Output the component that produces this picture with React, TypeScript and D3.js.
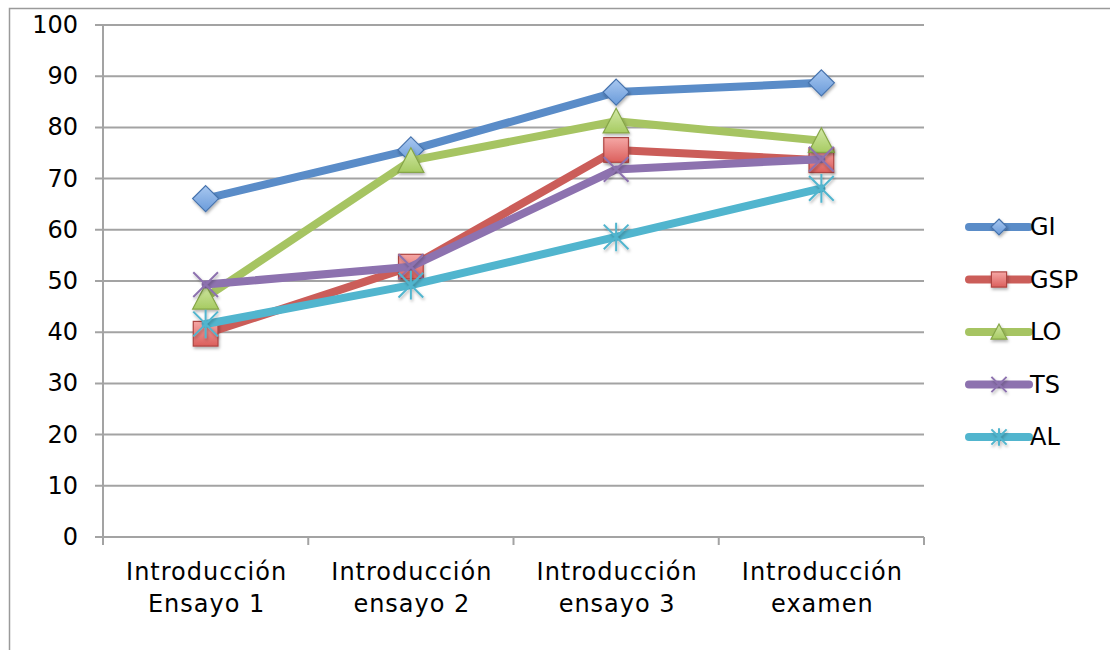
import React from "react";
import * as d3 from "d3";

const categories = [
  ["Introducción", "Ensayo 1"],
  ["Introducción", "ensayo 2"],
  ["Introducción", "ensayo 3"],
  ["Introducción", "examen"],
];
const yTicks = [0, 10, 20, 30, 40, 50, 60, 70, 80, 90, 100];

const seriesGI = [66.1, 75.6, 86.9, 88.7];
const seriesGSP = [39.7, 52.8, 75.6, 73.6];
const seriesLO = [46.8, 73.5, 81.2, 77.4];
const seriesTS = [49.3, 52.8, 71.8, 73.8];
const seriesAL = [41.6, 49.2, 58.6, 68.1];

const series = [
  { name: "GI", values: seriesGI, color: "#5A8CC8", fill: ["#A9C8F0", "#6A9BDA"], stroke: "#4673AD", marker: "diamond" },
  { name: "GSP", values: seriesGSP, color: "#CB5D59", fill: ["#F5A7A5", "#DB5F5C"], stroke: "#AE4542", marker: "square" },
  { name: "LO", values: seriesLO, color: "#A6C462", fill: ["#D2E8A6", "#A7CB62"], stroke: "#86A648", marker: "triangle" },
  { name: "TS", values: seriesTS, color: "#8D72AF", fill: ["#8D72AF", "#8D72AF"], stroke: "#8D72AF", marker: "x" },
  { name: "AL", values: seriesAL, color: "#51B5CE", fill: ["#51B5CE", "#51B5CE"], stroke: "#51B5CE", marker: "star" },
];

const FONT = "'DejaVu Sans', Verdana, sans-serif";
const left = 103;
const right = 924;
const top = 25;
const bottom = 537;

function Marker({ kind, x, y, s, idx, size = 13 }: any) {
  const r = size;
  const grad = `url(#grad${idx})`;
  if (kind === "diamond") {
    return (
      <path
        d={`M${x},${y - r} L${x + r},${y} L${x},${y + r} L${x - r},${y} Z`}
        fill={grad}
        stroke={s.stroke}
        strokeWidth={1.2}
        filter="url(#shadow)"
      />
    );
  }
  if (kind === "square") {
    const h = r * 0.95;
    return (
      <rect x={x - h} y={y - h} width={h * 2} height={h * 2} fill={grad} stroke={s.stroke} strokeWidth={1.2} filter="url(#shadow)" />
    );
  }
  if (kind === "triangle") {
    return (
      <path
        d={`M${x},${y - r} L${x + r},${y + r * 0.9} L${x - r},${y + r * 0.9} Z`}
        fill={grad}
        stroke={s.stroke}
        strokeWidth={1.2}
        filter="url(#shadow)"
      />
    );
  }
  if (kind === "x") {
    const h = r * 0.95;
    return (
      <path
        d={`M${x - h},${y - h} L${x + h},${y + h} M${x - h},${y + h} L${x + h},${y - h}`}
        stroke={s.stroke}
        strokeWidth={2}
        fill="none"
        filter="url(#shadow)"
      />
    );
  }
  const h = r * 0.95;
  return (
    <path
      d={`M${x - h},${y - h} L${x + h},${y + h} M${x - h},${y + h} L${x + h},${y - h} M${x},${y - r * 1.1} L${x},${y + r * 1.1}`}
      stroke={s.stroke}
      strokeWidth={2}
      fill="none"
      filter="url(#shadow)"
    />
  );
}

export default function App() {
  const x = d3
    .scalePoint<number>()
    .domain(d3.range(categories.length))
    .range([left, right])
    .padding(0.5);
  const bandStep = (right - left) / categories.length;
  const y = d3.scaleLinear().domain([0, 100]).range([bottom, top]);
  const line = d3
    .line<number>()
    .x((_, i) => x(i) as number)
    .y((v) => y(v));

  const legendX0 = 969;
  const legendX1 = 1029;
  const legendY0 = 227;
  const legendStep = 52.5;

  return (
    <svg
      width={1110}
      height={650}
      style={{ position: "absolute", left: 0, top: 0, background: "#fff" }}
      fontFamily={FONT}
    >
      <defs>
        {series.map((s, i) => (
          <linearGradient key={i} id={`grad${i}`} x1="0" y1="0" x2="0" y2="1">
            <stop offset="0%" stopColor={s.fill[0]} />
            <stop offset="100%" stopColor={s.fill[1]} />
          </linearGradient>
        ))}
        <filter id="shadow" x="-50%" y="-50%" width="200%" height="200%">
          <feDropShadow dx={1} dy={2} stdDeviation={1.5} floodColor="#000" floodOpacity={0.3} />
        </filter>
      </defs>

      {/* outer chart frame */}
      <path d="M9.5,650 L9.5,8.5 L1110,8.5" fill="none" stroke="#9a9a9a" strokeWidth={1.5} />

      {/* horizontal gridlines and y ticks */}
      {yTicks.map((t) => (
        <g key={t}>
          <line x1={95} x2={right} y1={y(t)} y2={y(t)} stroke="#a3a3a3" strokeWidth={2} />
          <text x={78} y={y(t)} textAnchor="end" dominantBaseline="central" fontSize={24} fill="#000">
            {t}
          </text>
        </g>
      ))}

      {/* axes */}
      <line x1={left} x2={left} y1={top} y2={bottom} stroke="#a3a3a3" strokeWidth={2} />
      <line x1={left} x2={right} y1={bottom} y2={bottom} stroke="#a3a3a3" strokeWidth={2} />
      {d3.range(categories.length + 1).map((i) => (
        <line
          key={i}
          x1={left + i * bandStep}
          x2={left + i * bandStep}
          y1={bottom}
          y2={bottom + 8}
          stroke="#a3a3a3"
          strokeWidth={2}
        />
      ))}

      {/* category labels */}
      {categories.map((c, i) => (
        <text key={i} textAnchor="middle" fontSize={24} letterSpacing={1} fill="#000">
          {c.map((ln, j) => (
            <tspan key={j} x={(x(i) as number) + 1} y={580 + j * 32}>
              {ln}
            </tspan>
          ))}
        </text>
      ))}

      {/* series */}
      {series.map((s, si) => (
        <g key={s.name}>
          <path
            d={line(s.values) || ""}
            fill="none"
            stroke={s.color}
            strokeWidth={8}
            strokeLinejoin="round"
            strokeLinecap="round"
          />
          {s.values.map((v, i) => (
            <Marker key={i} kind={s.marker} x={x(i)} y={y(v)} s={s} idx={si} />
          ))}
        </g>
      ))}

      {/* legend */}
      {series.map((s, si) => {
        const ly = legendY0 + si * legendStep;
        const mx = (legendX0 + legendX1) / 2;
        return (
          <g key={s.name}>
            <line x1={legendX0} x2={legendX1} y1={ly} y2={ly} stroke={s.color} strokeWidth={8} strokeLinecap="round" />
            <Marker kind={s.marker} x={mx} y={ly} s={s} idx={si} size={8} />
            <text x={legendX1 + 1} y={ly} dominantBaseline="central" fontSize={24} fill="#000">
              {s.name}
            </text>
          </g>
        );
      })}
    </svg>
  );
}
